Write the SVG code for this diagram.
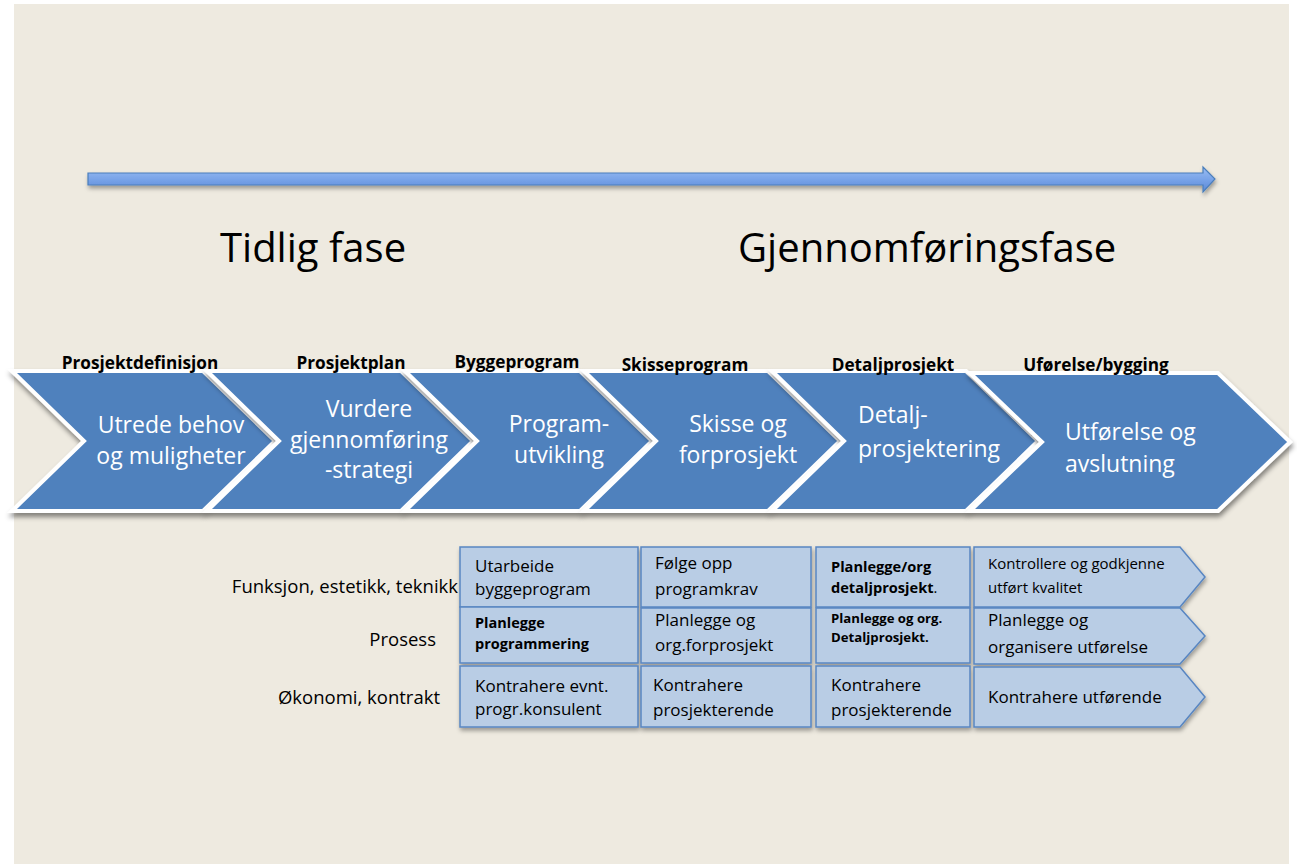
<svg xmlns="http://www.w3.org/2000/svg" width="1297" height="864" viewBox="0 0 1297 864">
<style>
.phase{font-family:"Open Sans","Liberation Sans",sans-serif;font-weight:bold;font-size:17.2px;fill:#000;text-anchor:middle}
.chev{fill:#4F81BD;stroke:#FFFFFF;stroke-width:4;stroke-linejoin:miter}
.ct{font-family:"Open Sans","Liberation Sans",sans-serif;font-size:23px;fill:#FFFFFF}
.mid{text-anchor:middle}
.title{font-family:"Open Sans","Liberation Sans",sans-serif;font-size:40px;fill:#000}
.rl{font-family:"Open Sans","Liberation Sans",sans-serif;font-size:18.5px;fill:#000;text-anchor:end}
.box{fill:#B9CDE5;stroke:#5886C2;stroke-width:1.5}
.bt{font-family:"Open Sans","Liberation Sans",sans-serif;font-size:17px;fill:#000}
.bb{font-weight:bold;font-size:14.5px}
.bs{font-size:15px}
</style>
<defs>
<linearGradient id="ag" x1="0" y1="0" x2="0" y2="1">
<stop offset="0" stop-color="#9BBDF2"/>
<stop offset="0.5" stop-color="#78A3E8"/>
<stop offset="1" stop-color="#5A88D6"/>
</linearGradient>
<filter id="sh" x="-5%" y="-10%" width="110%" height="130%">
<feDropShadow dx="1" dy="4" stdDeviation="2.5" flood-color="#000" flood-opacity="0.45"/>
</filter>
<filter id="sh2" x="-5%" y="-20%" width="110%" height="150%">
<feDropShadow dx="1" dy="3" stdDeviation="2" flood-color="#000" flood-opacity="0.35"/>
</filter>
</defs>
<rect x="0" y="0" width="1297" height="864" fill="#FFFFFF"/>
<rect x="14" y="4" width="1275" height="860" fill="#EEEAE0"/>

<g id="timeline-arrow" filter="url(#sh2)">
<path d="M88,173 H1203 V167 L1215,179 L1203,192 V185 H88 Z" fill="url(#ag)" stroke="#4A7EBB" stroke-width="1.2"/>
</g>

<g id="title-tidlig"><text class="title" x="220" y="262">Tidlig fase</text></g>
<g id="title-gjennomforing"><text class="title" x="738" y="262">Gjennomføringsfase</text></g>

<g id="chevron-1" filter="url(#sh)">
<polygon class="chev" points="12,371 203,371 275,441 203,511 12,511 84,441"/>
</g>
<g id="chevron-2" filter="url(#sh)">
<polygon class="chev" points="207,371 401,371 473,441 401,511 207,511 279,441"/>
</g>
<g id="chevron-3" filter="url(#sh)">
<polygon class="chev" points="405,371 580,371 652,441 580,511 405,511 477,441"/>
</g>
<g id="chevron-4" filter="url(#sh)">
<polygon class="chev" points="584,371 768,371 840,441 768,511 584,511 656,441"/>
</g>
<g id="chevron-5" filter="url(#sh)">
<polygon class="chev" points="772,371 966,371 1038,441 966,511 772,511 844,441"/>
</g>
<g id="chevron-6" filter="url(#sh)">
<polygon class="chev" points="970,373 1218,373 1290,442 1218,511 970,511 1042,442"/>
</g>

<g id="chevron-texts">
<text class="ct mid" x="171" y="433">Utrede behov</text>
<text class="ct mid" x="171" y="464">og muligheter</text>
<text class="ct mid" x="369" y="417">Vurdere</text>
<text class="ct mid" x="369" y="448">gjennomføring</text>
<text class="ct mid" x="369" y="478">-strategi</text>
<text class="ct mid" x="559" y="432">Program-</text>
<text class="ct mid" x="559" y="463">utvikling</text>
<text class="ct mid" x="738" y="432">Skisse og</text>
<text class="ct mid" x="738" y="463">forprosjekt</text>
<text class="ct" x="858" y="423">Detalj-</text>
<text class="ct" x="858" y="457">prosjektering</text>
<text class="ct" x="1065" y="440">Utførelse og</text>
<text class="ct" x="1065" y="472">avslutning</text>
</g>

<g id="phase-labels">
<text class="phase" x="140" y="369">Prosjektdefinisjon</text>
<text class="phase" x="351" y="369">Prosjektplan</text>
<text class="phase" x="517" y="368">Byggeprogram</text>
<text class="phase" x="685" y="371">Skisseprogram</text>
<text class="phase" x="893" y="371">Detaljprosjekt</text>
<text class="phase" x="1096" y="371">Uførelse/bygging</text>
</g>

<g id="row-labels">
<text class="rl" x="458" y="593">Funksjon, estetikk, teknikk</text>
<text class="rl" x="436" y="646">Prosess</text>
<text class="rl" x="440" y="704">Økonomi, kontrakt</text>
</g>

<g id="col1" filter="url(#sh2)">
<rect class="box" x="460" y="547" width="178" height="60"/>
<rect class="box" x="460" y="607" width="178" height="56"/>
<rect class="box" x="460" y="666" width="178" height="61"/>
</g>
<g id="col2" filter="url(#sh2)">
<rect class="box" x="641" y="547" width="170" height="60"/>
<rect class="box" x="641" y="608" width="170" height="55"/>
<rect class="box" x="641" y="666" width="170" height="61"/>
</g>
<g id="col3" filter="url(#sh2)">
<rect class="box" x="816" y="547" width="154" height="60"/>
<rect class="box" x="816" y="608" width="154" height="55"/>
<rect class="box" x="816" y="666" width="154" height="61"/>
</g>
<g id="col4" filter="url(#sh2)">
<polygon class="box" points="974,547 1180,547 1205,577 1180,607 974,607"/>
<polygon class="box" points="974,608 1180,608 1205,636 1180,664 974,664"/>
<polygon class="box" points="974,667 1180,667 1205,697 1180,727 974,727"/>
</g>

<g id="box-texts">
<text class="bt" x="475" y="572">Utarbeide</text>
<text class="bt" x="475" y="595">byggeprogram</text>
<text class="bt bb" x="475" y="628">Planlegge</text>
<text class="bt bb" x="475" y="649">programmering</text>
<text class="bt" x="475" y="692">Kontrahere evnt.</text>
<text class="bt" x="475" y="715">progr.konsulent</text>

<text class="bt" x="655" y="569">Følge opp</text>
<text class="bt" x="655" y="595">programkrav</text>
<text class="bt" x="655" y="626">Planlegge og</text>
<text class="bt" x="655" y="651">org.forprosjekt</text>
<text class="bt" x="653" y="691">Kontrahere</text>
<text class="bt" x="653" y="716">prosjekterende</text>

<text class="bt bb" x="831" y="572" style="font-size:14.6px">Planlegge/org</text>
<text class="bt" x="831" y="593" style="font-size:14.6px"><tspan font-weight="bold">detaljprosjekt</tspan>.</text>
<text class="bt bb" x="831" y="623" style="font-size:13.2px">Planlegge  og org.</text>
<text class="bt bb" x="831" y="642" style="font-size:13.2px">Detaljprosjekt.</text>
<text class="bt" x="831" y="691">Kontrahere</text>
<text class="bt" x="831" y="716">prosjekterende</text>

<text class="bt bs" x="988" y="569">Kontrollere og godkjenne</text>
<text class="bt bs" x="988" y="593">utført kvalitet</text>
<text class="bt" x="988" y="626">Planlegge og</text>
<text class="bt" x="988" y="653">organisere utførelse</text>
<text class="bt" x="988" y="703">Kontrahere utførende</text>
</g>
</svg>
